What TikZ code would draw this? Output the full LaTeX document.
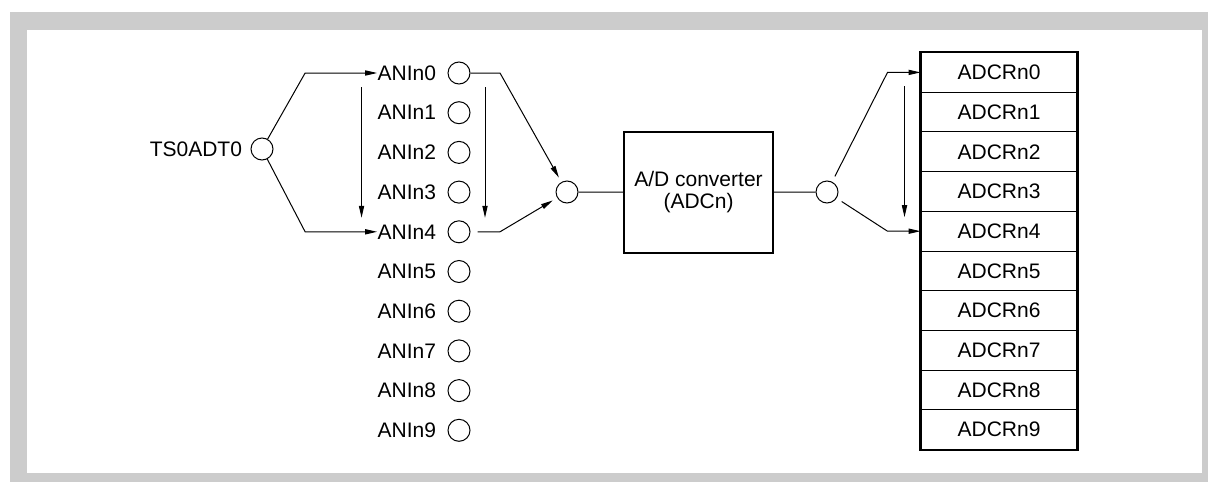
\documentclass[tikz,border=0pt]{standalone}
\usepackage{fontspec}
\setmainfont{Liberation Sans}
\usetikzlibrary{arrows.meta,positioning}

\begin{document}
\begin{tikzpicture}[x=0.5pt, y=-0.5pt, node distance=19.85pt,
    >={Triangle[length=6pt,width=2.6pt]}, line width=0.5pt,
    font=\fontsize{10.5}{11}\selectfont,
    port/.style={draw, circle, minimum size=11pt, inner sep=0pt},
    lbl/.style={inner sep=0pt},
    reg/.style={draw, minimum width=78pt, minimum height=19.85pt, inner sep=0pt}]
\useasboundingbox (0,0) rectangle (1208,482);
\fill[black!20] (10,12) rectangle (1208,482);
\fill[white] (27,30) rectangle (1202,473);

\node[port] (ts) at (262,149) {};
\node[lbl, left=4pt of ts] (lts) {TS0ADT0};

\node[port] (a0) at (459,73) {};
\node[port, below of=a0] (a1) {};
\node[port, below of=a1] (a2) {};
\node[port, below of=a2] (a3) {};
\node[port, below of=a3] (a4) {};
\node[port, below of=a4] (a5) {};
\node[port, below of=a5] (a6) {};
\node[port, below of=a6] (a7) {};
\node[port, below of=a7] (a8) {};
\node[port, below of=a8] (a9) {};
\node[lbl, left=5.5pt of a0] (la0) {ANIn0};
\node[lbl, left=5.5pt of a1] (la1) {ANIn1};
\node[lbl, left=5.5pt of a2] (la2) {ANIn2};
\node[lbl, left=5.5pt of a3] (la3) {ANIn3};
\node[lbl, left=5.5pt of a4] (la4) {ANIn4};
\node[lbl, left=5.5pt of a5] (la5) {ANIn5};
\node[lbl, left=5.5pt of a6] (la6) {ANIn6};
\node[lbl, left=5.5pt of a7] (la7) {ANIn7};
\node[lbl, left=5.5pt of a8] (la8) {ANIn8};
\node[lbl, left=5.5pt of a9] (la9) {ANIn9};

\node[port] (mux) at (567,192) {};
\node[draw, line width=1.2pt, minimum width=74.5pt, minimum height=60.5pt,
  align=center] (adc) at (698.5,192.5) {A/D converter\\(ADCn)};
\node[port] (mux2) at (827,192) {};

\node[reg] (r0) at (999,72.4) {ADCRn0};
\node[reg, below of=r0] (r1) {ADCRn1};
\node[reg, below of=r1] (r2) {ADCRn2};
\node[reg, below of=r2] (r3) {ADCRn3};
\node[reg, below of=r3] (r4) {ADCRn4};
\node[reg, below of=r4] (r5) {ADCRn5};
\node[reg, below of=r5] (r6) {ADCRn6};
\node[reg, below of=r6] (r7) {ADCRn7};
\node[reg, below of=r7] (r8) {ADCRn8};
\node[reg, below of=r8] (r9) {ADCRn9};
\draw[line width=1.2pt] (r0.north west) rectangle (r9.south east);

\draw[->] (ts) -- ([xshift=-36pt]la0.west) -- (la0.west);
\draw[->] (ts) -- ([xshift=-36pt]la4.west) -- (la4.west);
\draw[->] ([xshift=-7.8pt,yshift=-7pt]la0.west) -- ([xshift=-7.8pt,yshift=7pt]la4.west);
\draw[->] ([xshift=13pt,yshift=-7pt]a0.center) -- ([xshift=13pt,yshift=7pt]a4.center);
\draw[->, shorten >=2.5pt] (a0) -- ([xshift=20.5pt]a0.center) -- (mux);
\draw[->, shorten <=3.5pt, shorten >=2.5pt] (a4) -- ([xshift=20.5pt]a4.center) -- (mux);
\draw (mux) -- (adc);
\draw (adc) -- (mux2);
\draw[->, shorten <=3pt] (mux2) -- ([xshift=-16.5pt]r0.west) -- (r0.west);
\draw[->, shorten <=3pt] (mux2) -- ([xshift=-16.5pt]r4.west) -- (r4.west);
\draw[->] ([xshift=-8pt,yshift=-7pt]r0.west) -- ([xshift=-8pt,yshift=7pt]r4.west);
\end{tikzpicture}
\end{document}
